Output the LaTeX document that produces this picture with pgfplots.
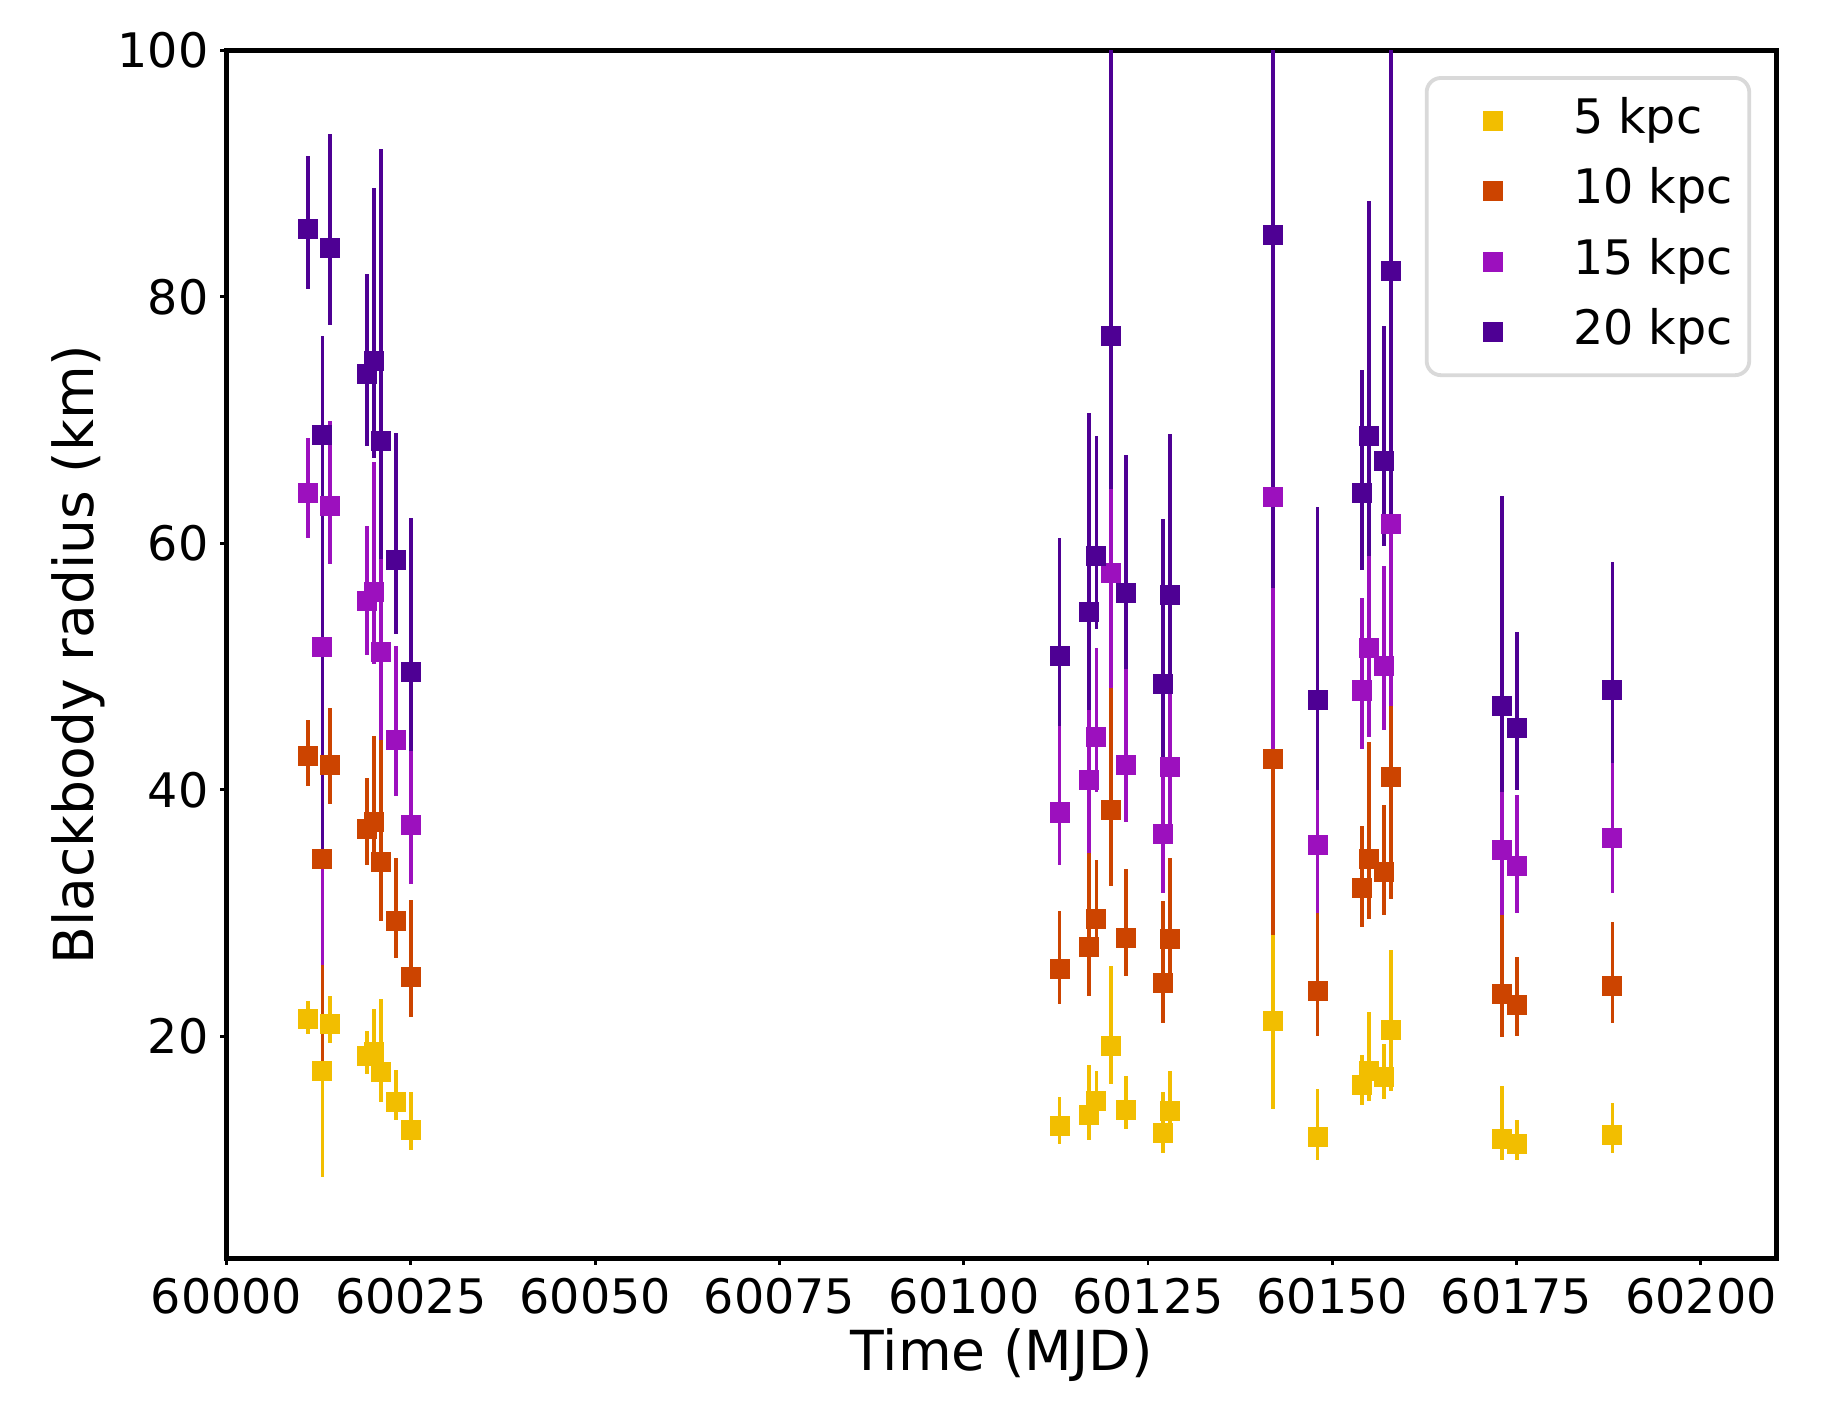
\documentclass[border=0pt]{standalone}
\usepackage{pgfplots}
\usepackage{pgfplotstable}
\pgfplotsset{compat=1.18}
\usepackage{fontspec}
\setmainfont{DejaVu Sans}
\definecolor{cfive}{HTML}{F2BE00}
\definecolor{cten}{HTML}{CC4400}
\definecolor{cfifteen}{HTML}{9C10BE}
\definecolor{ctwenty}{HTML}{4E0094}
\pgfplotstableread{
x y ep em
60011 21.37 1.48 1.22
60013 17.20 2.00 8.60
60014 21.00 2.30 1.57
60019 18.43 2.03 1.46
60020 18.69 3.51 1.96
60021 17.07 5.93 2.38
60023 14.67 2.56 1.50
60025 12.39 3.13 1.60
60113 12.72 2.38 1.42
60117 13.61 4.04 1.99
60118 14.75 2.42 1.48
60120 19.20 6.54 3.10
60122 14.00 2.80 1.55
60127 12.15 3.35 1.60
60128 13.95 3.27 1.67
60142 21.25 8.75 7.15
60148 11.83 3.90 1.83
60154 16.02 2.50 1.57
60155 17.18 4.77 2.43
60157 16.68 2.72 1.74
60158 20.53 6.47 4.94
60173 11.70 4.27 1.74
60175 11.26 1.94 1.26
60188 12.03 2.59 1.48
}\tfive
\pgfplotstableread{
x y ep em
60011 42.74 2.96 2.44
60013 34.40 4.00 17.20
60014 42.00 4.60 3.14
60019 36.86 4.06 2.92
60020 37.38 7.02 3.92
60021 34.14 11.86 4.76
60023 29.34 5.12 3.00
60025 24.78 6.26 3.20
60113 25.44 4.76 2.84
60117 27.22 8.08 3.98
60118 29.50 4.84 2.96
60120 38.40 13.08 6.20
60122 28.00 5.60 3.10
60127 24.30 6.70 3.20
60128 27.90 6.54 3.34
60142 42.50 17.50 14.30
60148 23.66 7.80 3.66
60154 32.04 5.00 3.14
60155 34.36 9.54 4.86
60157 33.36 5.44 3.48
60158 41.06 12.94 9.88
60173 23.40 8.54 3.48
60175 22.52 3.88 2.52
60188 24.06 5.18 2.96
}\tten
\pgfplotstableread{
x y ep em
60011 64.11 4.44 3.66
60013 51.60 6.00 25.80
60014 63.00 6.90 4.71
60019 55.29 6.09 4.38
60020 56.07 10.53 5.88
60021 51.21 17.79 7.14
60023 44.01 7.68 4.50
60025 37.17 9.39 4.80
60113 38.16 7.14 4.26
60117 40.83 12.12 5.97
60118 44.25 7.26 4.44
60120 57.60 19.62 9.30
60122 42.00 8.40 4.65
60127 36.45 10.05 4.80
60128 41.85 9.81 5.01
60142 63.75 26.25 21.45
60148 35.49 11.70 5.49
60154 48.06 7.50 4.71
60155 51.54 14.31 7.29
60157 50.04 8.16 5.22
60158 61.59 19.41 14.82
60173 35.10 12.81 5.22
60175 33.78 5.82 3.78
60188 36.09 7.77 4.44
}\tfifteen
\pgfplotstableread{
x y ep em
60011 85.48 5.92 4.88
60013 68.80 8.00 34.40
60014 84.00 9.20 6.28
60019 73.72 8.12 5.84
60020 74.76 14.04 7.84
60021 68.28 23.72 9.52
60023 58.68 10.24 6.00
60025 49.56 12.52 6.40
60113 50.88 9.52 5.68
60117 54.44 16.16 7.96
60118 59.00 9.68 5.92
60120 76.80 26.16 12.40
60122 56.00 11.20 6.20
60127 48.60 13.40 6.40
60128 55.80 13.08 6.68
60142 85.00 35.00 28.60
60148 47.32 15.60 7.32
60154 64.08 10.00 6.28
60155 68.72 19.08 9.72
60157 66.72 10.88 6.96
60158 82.12 25.88 19.76
60173 46.80 17.08 6.96
60175 45.04 7.76 5.04
60188 48.12 10.36 5.92
}\ttwenty
\begin{document}
\begin{tikzpicture}
\begin{axis}[
  name=ax,
  scale only axis,
  width=326.0pt, height=254.1pt,
  xmin=60000, xmax=60210.3,
  ymin=1.95, ymax=100,
  xtick={60000,60025,...,60200},
  ytick={20,40,60,80,100},
  scaled x ticks=false,
  /pgf/number format/assume math mode=true,
  /pgf/number format/set thousands separator={},
  tick align=outside,
  tick pos=left,
  major tick length=1.3pt,
  tick style={line width=0.6pt, black},
  axis line style={line width=1pt},
  tick label style={font=\fontsize{10}{12}\selectfont},
  xticklabel style={anchor=base, yshift=-10.2pt},
  yticklabel style={anchor=east, xshift=1pt},
  label style={font=\fontsize{11.6}{14}\selectfont},
  xlabel={Time (MJD)},
  ylabel={Blackbody radius (km)},
  xlabel style={at={(axis description cs:0.5,0)}, anchor=base, yshift=-23.5pt},
  ylabel style={at={(axis description cs:0,0.5)}, anchor=center, xshift=0pt, yshift=31.2pt},
  legend style={at={(1,1)}, anchor=north east, xshift=-5.4pt, yshift=-5.4pt,
    draw=black!15, line width=0.8pt, rounded corners=3pt, fill=white,
    inner xsep=3.5pt, inner ysep=4.4pt, row sep=5.5pt, column sep=6.3pt,
    font=\fontsize{10}{12}\selectfont,
    nodes={inner sep=0pt, text height=7.3pt, text depth=2pt}},
  legend cell align=left,
  legend image code/.code={\path[draw=none, fill=none] (-10.5pt,-3pt) rectangle (10.5pt,3pt); \draw[#1, sharp corners] plot coordinates {(0pt,0pt)};},
  every axis plot/.append style={only marks, mark=square*, mark size=2pt,
    error bars/y dir=both, error bars/y explicit, error bars/error mark=none},
]
\addplot[color=cfive, mark options={fill=cfive, draw=cfive, line width=0pt},
  error bars/error bar style={line width=0.8pt, cfive}]
  table[x=x, y=y, y error plus=ep, y error minus=em]{\tfive};
\addlegendentry{5 kpc}
\addplot[color=cten, mark options={fill=cten, draw=cten, line width=0pt},
  error bars/error bar style={line width=0.8pt, cten}]
  table[x=x, y=y, y error plus=ep, y error minus=em]{\tten};
\addlegendentry{10 kpc}
\addplot[color=cfifteen, mark options={fill=cfifteen, draw=cfifteen, line width=0pt},
  error bars/error bar style={line width=0.8pt, cfifteen}]
  table[x=x, y=y, y error plus=ep, y error minus=em]{\tfifteen};
\addlegendentry{15 kpc}
\addplot[color=ctwenty, mark options={fill=ctwenty, draw=ctwenty, line width=0pt},
  error bars/error bar style={line width=0.8pt, ctwenty}]
  table[x=x, y=y, y error plus=ep, y error minus=em]{\ttwenty};
\addlegendentry{20 kpc}
\end{axis}
\pgfresetboundingbox
\path ([shift={(-47.65pt,-30.3pt)}]ax.south west) rectangle ([shift={(11.6pt,10.6pt)}]ax.north east);
\end{tikzpicture}
\end{document}
